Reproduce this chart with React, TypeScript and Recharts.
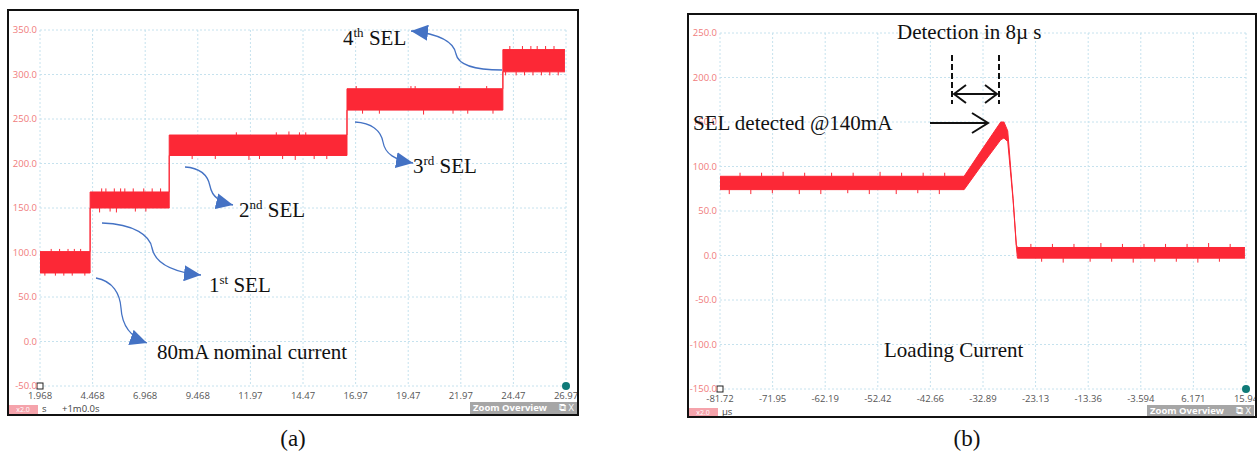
import React from "react";
import { ComposedChart, Area, Line, ErrorBar, XAxis, YAxis, CartesianGrid, ReferenceDot } from "recharts";

// panel (a): SEL steps over time (s)
const xTicksA = ["1.968", "4.468", "6.968", "9.468", "11.97", "14.47", "16.97", "19.47", "21.97", "24.47", "26.97"];
const yTicksA = [-50, 0, 50, 100, 150, 200, 250, 300, 350];
const stepTimesA = [1.968, 4.35, 8.11, 16.56, 23.97, 26.92];
const stepLowA = [77, 150, 209, 260, 303, 303];
const stepHighA = [101, 168, 232, 284, 328, 328];
// noise spikes on the band edges: time, edge value, down / up length
const spikeTA = [2.5, 2.9, 3.3, 3.6, 3.9, 2.2, 2.7, 3.1, 3.5, 4.1, 4.9, 5.1, 5.5, 5.8, 6.0, 6.4, 6.9, 7.3, 7.7, 4.8, 5.3, 5.6, 6.5, 7.0, 11.3, 13.2, 13.8, 14.3, 14.6, 9.2, 10.3, 11.9, 12.4, 13.5, 14.1, 15.0, 15.6, 17.0, 19.6, 19.8, 21.9, 23.2, 17.3, 18.1, 20.2, 21.6, 22.3, 23.5, 24.3, 24.9, 25.3, 25.6, 26.0, 26.4, 24.1, 24.6, 25.0, 25.4, 25.8, 26.2, 26.6];
const spikeYA = [101, 101, 101, 101, 101, 77, 77, 77, 77, 77, 168, 168, 168, 168, 168, 168, 168, 168, 168, 150, 150, 150, 150, 150, 232, 232, 232, 232, 232, 209, 209, 209, 209, 209, 209, 209, 209, 284, 284, 284, 284, 284, 260, 260, 260, 260, 260, 260, 328, 328, 328, 328, 328, 328, 303, 303, 303, 303, 303, 303, 303];
const spikeDownA = [0, 0, 0, 0, 0, 3, 3, 3, 3, 3, 0, 0, 0, 0, 0, 0, 0, 0, 0, 5, 4, 5, 4, 4, 0, 0, 0, 0, 0, 4, 4, 5, 4, 4, 5, 4, 4, 0, 0, 0, 0, 0, 4, 4, 5, 4, 4, 4, 0, 0, 0, 0, 0, 0, 4, 4, 4, 4, 4, 4, 4];
const spikeUpA = [3, 3, 3, 3, 3, 0, 0, 0, 0, 0, 4, 4, 4, 4, 4, 4, 4, 4, 4, 0, 0, 0, 0, 0, 3, 3, 4, 3, 3, 0, 0, 0, 0, 0, 0, 0, 0, 3, 3, 3, 3, 3, 0, 0, 0, 0, 0, 0, 4, 4, 4, 4, 4, 4, 0, 0, 0, 0, 0, 0, 0];

// panel (b): detection transient (µs)
const xTicksB = ["-81.72", "-71.95", "-62.19", "-52.42", "-42.66", "-32.89", "-23.13", "-13.36", "-3.594", "6.171", "15.94"];
const yTicksB = [-150, -100, -50, 0, 50, 100, 150, 200, 250];
const timesB = [-81.72, -36.4, -33.3, -29.6, -29.0, -28.3, -27.3, -26.7, -26.5, 15.74];
const lowB = [74, 74, 100, 130, 132, 128, 62, 10, -3, -3];
const highB = [89, 89, 117, 150, 150, 140, 64, 12, 9, 9];
const spikeTB = [-78, -74, -70, -66, -61, -57, -52, -48, -44, -40, -80, -76, -72, -67, -63, -58, -54, -49, -45, -41, -24, -20, -16, -11, -7, -3, 1, 5, 9, 13, -22, -18, -13, -9, -5, -1, 3, 7, 11];
const spikeYB = [89, 89, 89, 89, 89, 89, 89, 89, 89, 89, 74, 74, 74, 74, 74, 74, 74, 74, 74, 74, 9, 9, 9, 9, 9, 9, 9, 9, 9, 9, -3, -3, -3, -3, -3, -3, -3, -3, -3];
const spikeDownB = [0, 0, 0, 0, 0, 0, 0, 0, 0, 0, 5, 5, 4, 5, 5, 4, 5, 5, 4, 5, 0, 0, 0, 0, 0, 0, 0, 0, 0, 0, 4, 5, 4, 4, 5, 4, 4, 5, 4];
const spikeUpB = [4, 4, 5, 4, 4, 4, 5, 4, 4, 4, 0, 0, 0, 0, 0, 0, 0, 0, 0, 0, 4, 4, 4, 5, 4, 4, 4, 4, 5, 4, 0, 0, 0, 0, 0, 0, 0, 0, 0];

const RED = "#fc2836";
const BLUE = "#4472c4";
const SERIF = "'Liberation Serif', 'Times New Roman', serif";
const UI = "'Open Sans', 'Noto Sans', sans-serif";

const dataA = stepTimesA.map((t, i) => ({ t, band: [stepLowA[i], stepHighA[i]] }));
const dataB = timesB.map((t, i) => ({ t, band: [lowB[i], highB[i]] }));
const spikesA = spikeTA.map((t, i) => ({ t, y: spikeYA[i], err: [spikeDownA[i], spikeUpA[i]] }));
const spikesB = spikeTB.map((t, i) => ({ t, y: spikeYB[i], err: [spikeDownB[i], spikeUpB[i]] }));

const SquareMark = (props: any) => (
  <rect x={props.cx - 3} y={props.cy - 3} width={6} height={6} fill="#fff" stroke="#222" strokeWidth={1} />
);
const TealMark = (props: any) => <circle cx={props.cx} cy={props.cy} r={4} fill="#0f7a78" />;

function Scope({ data, spikes, xTicks, yTicks, type }: any) {
  const xs = xTicks.map(Number);
  const x0 = xs[0];
  const x1 = xs[xs.length - 1];
  const y0 = yTicks[0];
  const y1 = yTicks[yTicks.length - 1];
  return (
    <ComposedChart width={570} height={404} data={data} margin={{ top: 19, right: 12, bottom: 0, left: 0 }}>
      <CartesianGrid stroke="#c6e2ee" strokeDasharray="2 2" horizontalValues={yTicks} verticalValues={xs} />
      <XAxis
        type="number"
        dataKey="t"
        domain={[x0, x1]}
        ticks={xs}
        interval={0}
        height={29}
        tickSize={0}
        tickMargin={6}
        axisLine={false}
        tickLine={false}
        allowDataOverflow
        tick={{ fill: "#555", fontSize: 9.5, fontFamily: UI }}
        tickFormatter={(v: number) => xTicks.find((s: string) => Number(s) === v) ?? String(v)}
      />
      <YAxis
        type="number"
        domain={[y0, y1]}
        ticks={yTicks}
        interval={0}
        width={32}
        tickSize={0}
        tickMargin={3}
        axisLine={false}
        tickLine={false}
        allowDataOverflow
        tick={{ fill: "#f07b7b", fontSize: 9.5, fontFamily: UI }}
        tickFormatter={(v: number) => v.toFixed(1)}
      />
      <Area
        type={type}
        dataKey="band"
        stroke={RED}
        strokeWidth={1}
        fill={RED}
        fillOpacity={1}
        isAnimationActive={false}
        dot={false}
        activeDot={false}
      />
      <Line data={spikes} dataKey="y" stroke="none" dot={false} activeDot={false} isAnimationActive={false}>
        <ErrorBar dataKey="err" direction="y" width={0} stroke={RED} strokeWidth={1} isAnimationActive={false} />
      </Line>
      <ReferenceDot x={x0} y={y0} r={3} shape={SquareMark} ifOverflow="visible" />
      <ReferenceDot x={x1} y={y0} r={4} shape={TealMark} ifOverflow="visible" />
    </ComposedChart>
  );
}

function BottomBar({ left, top, unit, offset }: any) {
  return (
    <>
      <div style={{ position: "absolute", left, top, width: 30, height: 9, background: "#f5a3ab", color: "#fff", fontSize: 7, fontFamily: UI, lineHeight: "9px", textAlign: "center" }}>x2.0</div>
      <div style={{ position: "absolute", left: left + 34, top: top - 3, fontSize: 9.5, fontFamily: UI, color: "#444", lineHeight: "14px" }}>{unit}</div>
      {offset && (
        <div style={{ position: "absolute", left: left + 54, top: top - 3, fontSize: 9.5, fontFamily: UI, color: "#444", lineHeight: "14px" }}>{offset}</div>
      )}
    </>
  );
}

function ZoomBox({ left, top }: any) {
  return (
    <div style={{ position: "absolute", left, top, width: 107, height: 12, background: "#a6a6a6", color: "#fff", fontSize: 9.5, fontWeight: 700, fontFamily: UI, lineHeight: "12px", paddingLeft: 3, boxSizing: "border-box", whiteSpace: "nowrap", overflow: "hidden" }}>
      Zoom Overview
      <span style={{ position: "absolute", right: 3, top: 0, fontWeight: 400 }}>⧉ X</span>
    </div>
  );
}

const Sup = ({ base, sup, rest }: any) => (
  <>
    {base}
    <tspan fontSize={13} dy={-8}>{sup}</tspan>
    <tspan dy={8}>{rest}</tspan>
  </>
);

export default function App() {
  return (
    <div style={{ position: "absolute", left: 0, top: 0, width: 1257, height: 455, background: "#fff", overflow: "hidden" }}>
      {/* panel (a) */}
      <div style={{ position: "absolute", left: 8, top: 11 }}>
        <Scope data={dataA} spikes={spikesA} xTicks={xTicksA} yTicks={yTicksA} type="stepAfter" />
      </div>
      <BottomBar left={8} top={405} unit="s" offset="+1m0.0s" />
      <ZoomBox left={470} top={402} />
      <div style={{ position: "absolute", left: 7, top: 9, width: 572, height: 407, border: "2px solid #111", boxSizing: "border-box" }} />

      {/* panel (b) */}
      <div style={{ position: "absolute", left: 688, top: 14 }}>
        <Scope data={dataB} spikes={spikesB} xTicks={xTicksB} yTicks={yTicksB} type="linear" />
      </div>
      <BottomBar left={688} top={408} unit="µs" />
      <ZoomBox left={1147} top={405} />
      <div style={{ position: "absolute", left: 687, top: 13, width: 570, height: 405, border: "2px solid #111", boxSizing: "border-box" }} />

      {/* annotations */}
      <svg width={1257} height={455} style={{ position: "absolute", left: 0, top: 0, pointerEvents: "none" }}>
        <defs>
          <marker id="blueHead" markerUnits="userSpaceOnUse" markerWidth={18} markerHeight={16} refX={17} refY={8} orient="auto">
            <path d="M0,0 L17,8 L0,16 z" fill={BLUE} />
          </marker>
        </defs>
        <g fill="none" stroke={BLUE} strokeWidth={1.3} markerEnd="url(#blueHead)">
          <path d="M502,70 C472,70 458,64 456,54 C454,42 440,34 411,31" />
          <path d="M355,122 C372,123 381,131 383,142 C385,154 395,160 413,163" />
          <path d="M185,167 C201,168 208,176 210,186 C212,197 220,202 233,205" />
          <path d="M102,223 C135,224 150,236 152,248 C155,263 172,272 201,275" />
          <path d="M96,278 C113,281 120,294 121,308 C122,326 130,337 147,343" />
        </g>
        <g fontFamily={SERIF} fontSize={21} fill="#111">
          <text x={343} y={45}><Sup base="4" sup="th" rest=" SEL" /></text>
          <text x={413} y={173}><Sup base="3" sup="rd" rest=" SEL" /></text>
          <text x={239} y={217}><Sup base="2" sup="nd" rest=" SEL" /></text>
          <text x={209} y={292}><Sup base="1" sup="st" rest=" SEL" /></text>
          <text x={157} y={359}>80mA nominal current</text>

          <text x={897} y={39}>Detection in 8µ s</text>
          <text x={693} y={130}>SEL detected @140mA</text>
          <text x={884} y={357}>Loading Current</text>

          <text x={293} y={446} textAnchor="middle" fontSize={23}>(a)</text>
          <text x={967} y={446} textAnchor="middle" fontSize={23}>(b)</text>
        </g>
        <g stroke="#111" strokeWidth={2} fill="none">
          <line x1={952} y1={55} x2={952} y2={104} strokeDasharray="6 3" />
          <line x1={999} y1={55} x2={999} y2={104} strokeDasharray="6 3" />
          <line x1={954} y1={94} x2={997} y2={94} />
          <polyline points="966,85 954,94 966,103" />
          <polyline points="985,85 997,94 985,103" />
          <line x1={930} y1={123} x2={987} y2={123} />
          <polyline points="972,113 988,123 972,133" />
        </g>
      </svg>
    </div>
  );
}
